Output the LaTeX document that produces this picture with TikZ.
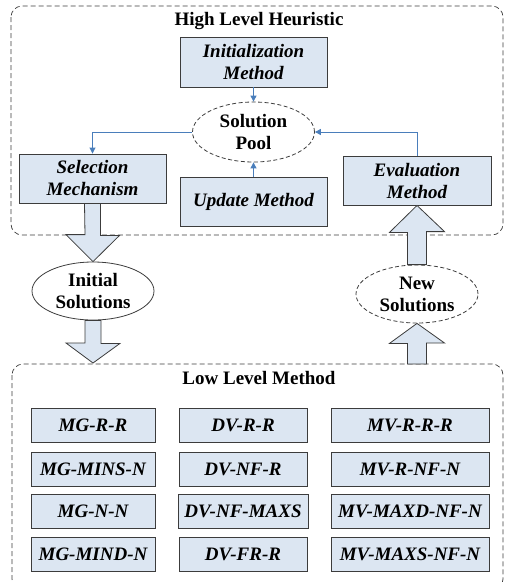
\documentclass[tikz,border=0pt]{standalone}
\usepackage{fontspec}
\setmainfont{Liberation Serif}
\usetikzlibrary{shapes.geometric,arrows.meta,calc}
\definecolor{boxfill}{RGB}{220,230,242}
\definecolor{boxline}{RGB}{60,60,60}
\definecolor{linkblue}{RGB}{74,126,187}
\begin{document}
\begin{tikzpicture}[x=1pt,y=-1pt,
  every node/.style={font=\fontsize{19}{22}\selectfont\bfseries, align=center, inner sep=0pt},
  methodbox/.style={draw=boxline, line width=0.9pt, fill=boxfill, font=\fontsize{19}{22}\selectfont\bfseries\itshape},
  gridbox/.style={methodbox, minimum height=34pt},
  solell/.style={ellipse, draw=boxline, line width=0.8pt, fill=white, minimum width=122pt, minimum height=58pt},
  dashell/.style={dash pattern=on 4pt off 2.5pt},
  region/.style={draw=boxline, dash pattern=on 5pt off 3pt, line width=0.7pt, rounded corners=11pt},
  link/.style={draw=linkblue, line width=0.9pt, -{Triangle[length=6pt,width=6pt]}},
  bigarrow/.style={draw=boxline, line width=0.8pt, fill=boxfill}
]
\useasboundingbox (0,0) rectangle (505,582);
% regions
\draw[region] (11,6) rectangle (503,235);
\draw[region] (12,364) rectangle (503,590);
\node (hlh) at (259,21) {High Level Heuristic};
\node (llm) at (259,378) {Low Level Method};
% high level nodes
\node[methodbox, minimum width=147pt, minimum height=50pt] (init) at (253.5,62) {Initialization\\Method};
\node[solell, dashell, minimum width=122pt, minimum height=60pt] (pool) at (253.5,132) {Solution\\Pool};
\node[methodbox, minimum width=147pt, minimum height=49pt] (sel) at (92.5,178.5) {Selection\\Mechanism};
\node[methodbox, minimum width=147pt, minimum height=49pt] (upd) at (253.5,201.5) {Update Method};
\node[methodbox, minimum width=148pt, minimum height=49pt] (eval) at (417,180.5) {Evaluation\\Method};
% blue links
\draw[link] (init.south) -- (pool.north);
\draw[link] (upd.north) -- (pool.south);
\draw[link] (pool.west) -| (sel.north);
\draw[link] (eval.north) |- (pool.east);
% solution ellipses
\node[solell] (inisol) at (93,291) {Initial\\Solutions};
\node[solell, dashell] (newsol) at (417,294) {New\\Solutions};
\coordinate (lowtop) at (93,363);
\coordinate (lowtopr) at (417,364);
% big arrows
\draw[bigarrow] (sel.south) ++(-8,0) -- ++(16,0) -- ++(0,32) -- ++(19,0) -- (inisol.north) -- ++(-27,-27) -- ++(19,0) -- cycle;
\draw[bigarrow] (inisol.south) ++(-8,0) -- ++(16,0) -- ++(0,23) -- ++(19,0) -- (lowtop) -- ++(-27,-20) -- ++(19,0) -- cycle;
\draw[bigarrow] (newsol.north) ++(-9.5,0) -- ++(19,0) -- ++(0,-33) -- ++(18,0) -- (eval.south) -- ++(-27.5,27) -- ++(18,0) -- cycle;
\draw[bigarrow] (lowtopr) ++(-9.5,0) -- ++(19,0) -- ++(0,-21) -- ++(18,0) -- (newsol.south) -- ++(-27.5,20) -- ++(18,0) -- cycle;
% low level grid
\node[gridbox, minimum width=124pt] (a1) at (93,425) {MG-R-R};
\node[gridbox, minimum width=124pt] (a2) at (93,469) {MG-MINS-N};
\node[gridbox, minimum width=124pt] (a3) at (93,511) {MG-N-N};
\node[gridbox, minimum width=124pt] (a4) at (93,554.5) {MG-MIND-N};
\node[gridbox, minimum width=128pt] (b1) at (243,425) {DV-R-R};
\node[gridbox, minimum width=128pt] (b2) at (243,469) {DV-NF-R};
\node[gridbox, minimum width=130pt] (b3) at (243,511) {DV-NF-MAXS};
\node[gridbox, minimum width=128pt] (b4) at (243,554.5) {DV-FR-R};
\node[gridbox, minimum width=158pt] (c1) at (410,425) {MV-R-R-R};
\node[gridbox, minimum width=158pt] (c2) at (410,469) {MV-R-NF-N};
\node[gridbox, minimum width=158pt] (c3) at (410,511) {MV-MAXD-NF-N};
\node[gridbox, minimum width=158pt] (c4) at (410,554.5) {MV-MAXS-NF-N};
\end{tikzpicture}
\end{document}
